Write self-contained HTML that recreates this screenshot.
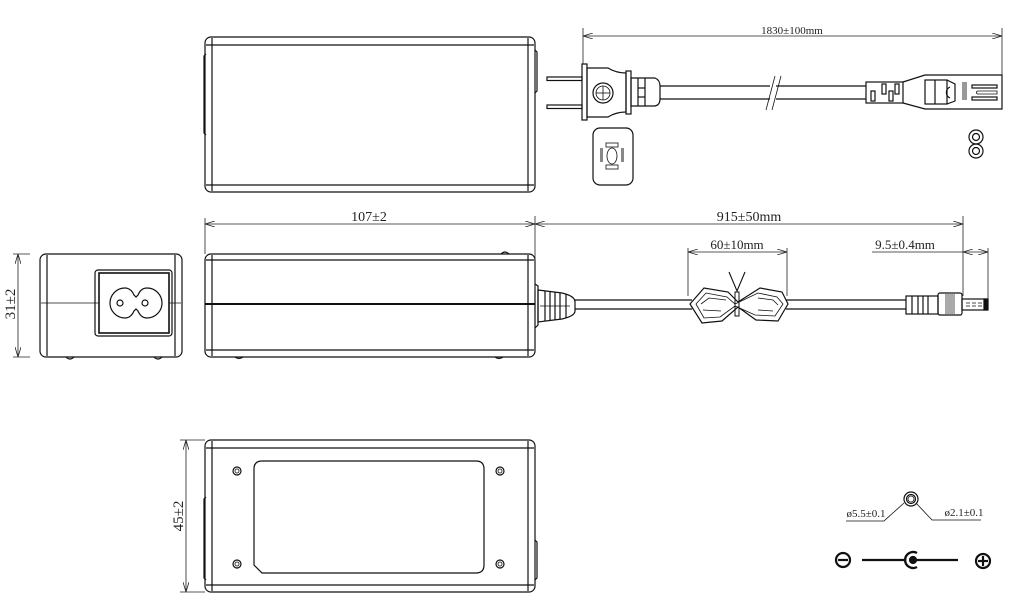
<!DOCTYPE html>
<html><head><meta charset="utf-8"><style>
html,body{margin:0;padding:0;background:#fff;}
svg{display:block;}
text{font-family:"Liberation Serif",serif;fill:#222;}
</style></head><body>
<svg width="1009" height="610" viewBox="0 0 1009 610" xmlns="http://www.w3.org/2000/svg">
<defs>
<marker id="a" markerWidth="10" markerHeight="6" refX="10" refY="3" orient="auto-start-reverse" markerUnits="userSpaceOnUse"><path d="M0,0 L10,3 L0,6" fill="none" stroke="#222" stroke-width="0.8"/></marker>
</defs>
<g fill="none" stroke="#111" stroke-width="1.2">
<rect x="205" y="37" width="330" height="155" rx="6"/>
<line x1="206" y1="45" x2="534" y2="45"/>
<line x1="206" y1="185" x2="534" y2="185"/>
<line x1="212" y1="38" x2="212" y2="191"/>
<line x1="528" y1="38" x2="528" y2="191"/>
<path d="M206,54 L204,56 L204,133 L206,135"/>
<path d="M535,50 L537,52 L537,91 L535,93"/>

<rect x="547" y="77" width="35" height="3.5"/>
<rect x="547" y="105" width="35" height="3.5"/>
<rect x="582" y="64" width="5" height="56"/>
<path d="M587,68 L608,68 Q616,73 626,73 L626,112 Q616,112 608,117 L587,117 Z"/>
<circle cx="603" cy="93" r="10"/>
<circle cx="603" cy="93" r="7" stroke-width="0.8"/>
<line x1="596" y1="93" x2="610" y2="93" stroke-width="0.8"/>
<line x1="603" y1="86" x2="603" y2="100" stroke-width="0.8"/>
<rect x="626" y="71" width="5" height="43"/>
<path d="M631,78 L655,78 Q660,80 660,86 L660,99 Q660,105 655,106 L631,106 Z"/>
<line x1="638" y1="78" x2="638" y2="106"/><line x1="645" y1="78" x2="645" y2="106"/>
<line x1="638" y1="88" x2="645" y2="88"/><line x1="638" y1="97" x2="645" y2="97"/>
<line x1="660" y1="86" x2="770" y2="86"/><line x1="660" y1="99" x2="770" y2="99"/>
<line x1="776" y1="86" x2="866" y2="86"/><line x1="776" y1="99" x2="866" y2="99"/>
<line x1="766" y1="110" x2="775" y2="76" stroke-width="0.8"/>
<line x1="772" y1="110" x2="781" y2="76" stroke-width="0.8"/>
<rect x="866" y="82" width="37" height="21"/>
<rect x="871" y="91" width="4" height="10"/><rect x="882" y="84" width="4" height="10"/>
<rect x="889" y="91" width="4" height="10"/><rect x="895" y="84" width="4" height="10"/>
<path d="M903,82 L925,75 L1002,75 L1002,109 L925,109 L903,103"/>
<rect x="925" y="80" width="22" height="24"/>
<line x1="935" y1="80" x2="935" y2="104"/>
<path d="M947,80 L955,84 L955,101 L947,104"/>
<path d="M950,87 A6,6 0 0 0 950,98"/>
<rect x="972" y="85" width="25" height="3"/><rect x="972" y="97" width="25" height="3"/>
<path d="M978,91 L997,91 L997,94 L978,94 A1.5,1.5 0 0 1 978,91Z" stroke-width="0.8"/>
<rect x="962" y="82" width="5" height="18" fill="#999" stroke="none"/>
<rect x="593" y="128" width="40" height="57" rx="7"/>
<ellipse cx="612" cy="156" rx="5" ry="8" stroke-width="0.8"/>
<rect x="606" y="143" width="12" height="4" stroke-width="0.8"/><rect x="606" y="165" width="12" height="4" stroke-width="0.8"/>
<rect x="600" y="148" width="3" height="14" fill="#888" stroke="none"/><rect x="621" y="148" width="3" height="14" fill="#888" stroke="none"/>
<circle cx="976" cy="137" r="7"/><circle cx="976" cy="137" r="3.5"/>
<circle cx="976" cy="151" r="7"/><circle cx="976" cy="151" r="3.5"/>

<rect x="40" y="254" width="142" height="103" rx="6"/>
<line x1="47" y1="255" x2="47" y2="356"/><line x1="175" y1="255" x2="175" y2="356"/>
<line x1="41" y1="303" x2="181" y2="303" stroke-width="0.8"/>
<rect x="95" y="270" width="77" height="66" rx="3"/>
<rect x="99" y="273" width="70" height="60" stroke-width="1.6" fill="#fff"/>
<path d="M125,288 Q131,288 134,295 L136,297 L138,295 Q141,288 147,288 A15,15 0 0 1 147,318 Q141,318 138,311 L136,309 L134,311 Q131,318 125,318 A15,15 0 0 1 125,288Z"/>
<circle cx="120" cy="303" r="3"/><circle cx="145" cy="303" r="3"/>
<path d="M66,357 Q70,361 74,357 M154,357 Q158,361 162,357"/>

<rect x="205" y="254" width="330" height="103" rx="6"/>
<line x1="206" y1="260" x2="534" y2="260"/><line x1="206" y1="350" x2="534" y2="350"/>
<line x1="212" y1="255" x2="212" y2="356"/><line x1="528" y1="255" x2="528" y2="356"/>
<line x1="205" y1="304" x2="535" y2="304" stroke-width="2"/>
<path d="M501,254 Q505,250 509,254 M235,357 Q239,360 243,357 M495,357 Q499,360 503,357"/>
<path d="M535,284 L538,286 L538,325 L535,328"/>
<path d="M538,290 L562,293 Q575,296 575,302 L575,311 Q575,316 562,319 L538,322Z"/>
<line x1="545" y1="291" x2="545" y2="321"/><line x1="550" y1="292" x2="550" y2="320"/>
<line x1="555" y1="292" x2="555" y2="320"/><line x1="560" y1="293" x2="560" y2="319"/>
<line x1="566" y1="294" x2="566" y2="318"/>
<line x1="540" y1="306" x2="570" y2="306" stroke-width="0.8"/>
<line x1="575" y1="300" x2="692" y2="300"/><line x1="575" y1="309" x2="692" y2="309"/>
<line x1="786" y1="300" x2="906" y2="300"/><line x1="786" y1="309" x2="906" y2="309"/>
<path d="M690,304 L704,288 L728,292 L738,302 L760,288 L782,292 L788,304 L778,321 L756,320 L738,307 L722,321 L702,323 Z"/>
<path d="M696,304 L706,293 L727,297 L735,304 L758,293 L777,297 L783,304 L775,316 L755,315 L735,306 L720,317 L704,318 Z" stroke-width="0.8"/>
<path d="M701,304 L709,298 L726,300 M758,298 L773,300 L778,305 M703,310 L721,311 M758,310 L773,311" stroke-width="0.8"/>
<rect x="735" y="292" width="4" height="24" stroke-width="1"/>
<path d="M729,272 L737,291 L745,272" stroke-width="1.1"/>
<rect x="906" y="296" width="32" height="18"/>
<line x1="912" y1="296" x2="912" y2="314"/><line x1="918" y1="296" x2="918" y2="314"/>
<line x1="923" y1="296" x2="923" y2="314"/><line x1="928" y1="296" x2="928" y2="314"/>
<rect x="938" y="293" width="24" height="22" rx="2"/>
<rect x="945" y="294" width="10" height="20" fill="#aaa" stroke="none"/>
<rect x="962" y="299" width="25" height="11"/>
<line x1="966" y1="303" x2="984" y2="303" stroke-dasharray="4,2" stroke-width="0.8"/>
<line x1="966" y1="306" x2="984" y2="306" stroke-dasharray="4,2" stroke-width="0.8"/>
<rect x="984" y="299" width="4" height="11" fill="#111"/>

<rect x="205" y="440" width="330" height="152" rx="6"/>
<line x1="206" y1="448" x2="534" y2="448"/><line x1="206" y1="585" x2="534" y2="585"/>
<line x1="212" y1="441" x2="212" y2="591"/><line x1="528" y1="441" x2="528" y2="591"/>
<path d="M206,497 L204,499 L204,578 L206,580"/>
<path d="M535,540 L537,542 L537,578 L535,580"/>
<path d="M262,461 L476,461 Q484,461 484,469 L484,565 Q484,573 476,573 L262,573 L254,565 L254,469 Q254,461 262,461Z"/>
<circle cx="237" cy="471" r="4"/><circle cx="237" cy="471" r="2" stroke-width="0.8"/>
<circle cx="500" cy="471" r="4"/><circle cx="500" cy="471" r="2" stroke-width="0.8"/>
<circle cx="237" cy="564" r="4"/><circle cx="237" cy="564" r="2" stroke-width="0.8"/>
<circle cx="500" cy="564" r="4"/><circle cx="500" cy="564" r="2" stroke-width="0.8"/>

<circle cx="911" cy="499" r="7"/><circle cx="911" cy="499" r="4.5"/><circle cx="911" cy="499" r="3" stroke-width="0.8"/>
<polyline points="846,521 884,521 904,503" stroke-width="0.8"/>
<polyline points="916,503 932,520 981,520" stroke-width="0.8"/>
<circle cx="843" cy="560" r="7" stroke-width="2.2"/><line x1="838" y1="560" x2="848" y2="560" stroke-width="2.2"/>
<line x1="862" y1="560" x2="905" y2="560" stroke-width="2.2"/>
<path d="M917,553 A8,8 0 1 0 917,567" stroke-width="2.4"/>
<circle cx="913" cy="560" r="3.5" fill="#111"/>
<line x1="913" y1="560" x2="958" y2="560" stroke-width="2.2"/>
<circle cx="983" cy="561" r="7" stroke-width="2.2"/><line x1="978" y1="561" x2="988" y2="561" stroke-width="2.2"/><line x1="983" y1="556" x2="983" y2="566" stroke-width="2.2"/>
</g>

<g fill="none" stroke="#222" stroke-width="0.8">
<line x1="583" y1="28" x2="583" y2="64"/><line x1="1002" y1="28" x2="1002" y2="75"/>
<line x1="583" y1="36" x2="1002" y2="36" marker-start="url(#a)" marker-end="url(#a)"/>
<line x1="205" y1="218" x2="205" y2="254"/><line x1="535" y1="216" x2="535" y2="290"/>
<line x1="963" y1="216" x2="963" y2="296"/><line x1="988" y1="248" x2="988" y2="299"/>
<line x1="205" y1="224" x2="535" y2="224" marker-start="url(#a)" marker-end="url(#a)"/>
<line x1="535" y1="224" x2="963" y2="224" marker-start="url(#a)" marker-end="url(#a)"/>
<line x1="688" y1="248" x2="688" y2="296"/><line x1="787" y1="248" x2="787" y2="296"/>
<line x1="688" y1="252" x2="787" y2="252" marker-start="url(#a)" marker-end="url(#a)"/>
<line x1="872" y1="252" x2="963" y2="252"/>
<line x1="963" y1="252" x2="988" y2="252" marker-start="url(#a)" marker-end="url(#a)"/>
<line x1="13" y1="254" x2="30" y2="254"/><line x1="13" y1="357" x2="30" y2="357"/>
<line x1="18" y1="254" x2="18" y2="357" marker-start="url(#a)" marker-end="url(#a)"/>
<line x1="180" y1="440" x2="205" y2="440"/><line x1="180" y1="592" x2="205" y2="592"/>
<line x1="186" y1="440" x2="186" y2="592" marker-start="url(#a)" marker-end="url(#a)"/>
</g>
<text x="792" y="34" font-size="11" text-anchor="middle">1830±100mm</text>
<text x="369" y="221" font-size="14" text-anchor="middle">107±2</text>
<text x="749" y="221" font-size="14" text-anchor="middle">915±50mm</text>
<text x="737" y="249" font-size="13" text-anchor="middle">60±10mm</text>
<text x="905" y="249" font-size="13" text-anchor="middle">9.5±0.4mm</text>
<text transform="translate(15,304) rotate(-90)" font-size="15" text-anchor="middle">31±2</text>
<text transform="translate(183,516) rotate(-90)" font-size="15" text-anchor="middle">45±2</text>
<text x="866" y="517" font-size="11" text-anchor="middle">ø5.5±0.1</text>
<text x="964" y="516" font-size="11" text-anchor="middle">ø2.1±0.1</text>
</svg>
</body></html>
